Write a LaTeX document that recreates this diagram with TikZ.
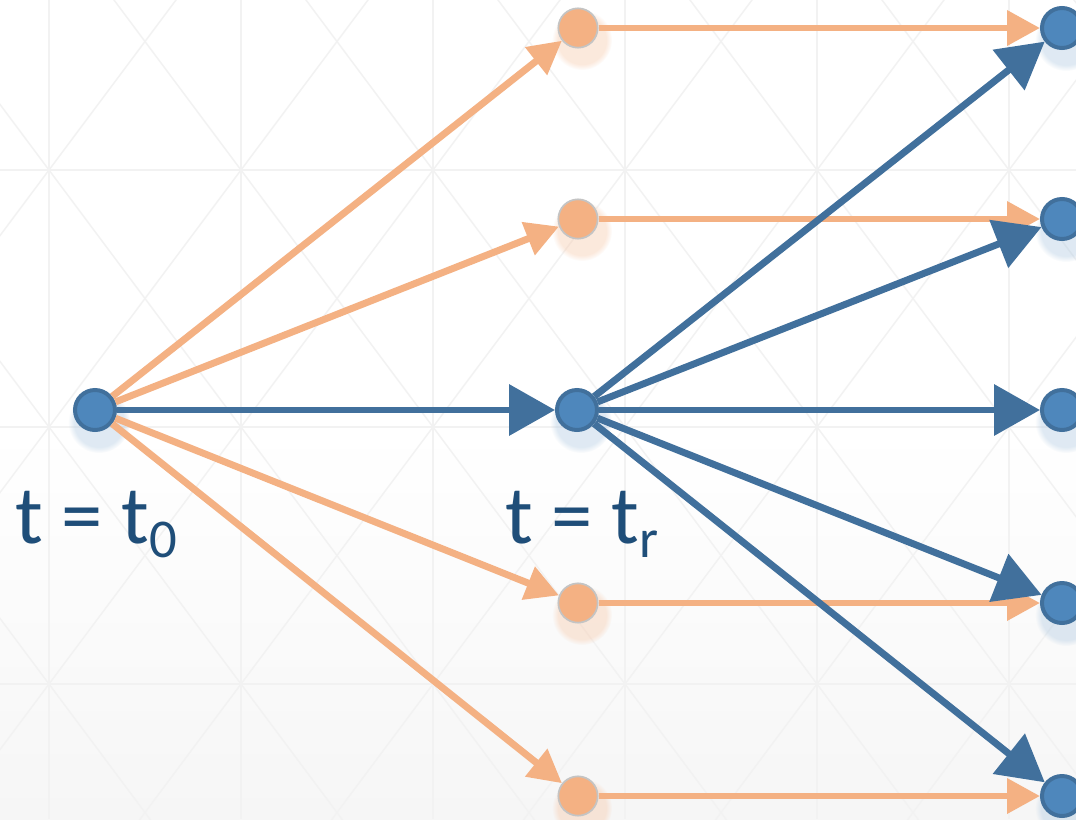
\documentclass[tikz,border=0pt]{standalone}
\usepackage{fontspec}
\setmainfont{Carlito}
\usetikzlibrary{arrows.meta,fadings}
\definecolor{nodeblue}{HTML}{4E87BC}
\definecolor{edgeblue}{HTML}{41709C}
\definecolor{peach}{HTML}{F4B183}
\definecolor{ringgrey}{HTML}{C4C4C4}
\definecolor{labelblue}{HTML}{1F4E79}
\definecolor{gridgrey}{HTML}{F2F2F2}
\definecolor{floorgrey}{HTML}{F6F6F6}
\pgfdeclarelayer{grid}
\pgfdeclarelayer{glow}
\pgfsetlayers{grid,glow,main}
\newcommand{\tsub}[1]{\raisebox{-0.17em}{\fontsize{41}{48}\selectfont #1}}
\tikzset{
  state/.style={circle,draw=edgeblue,fill=nodeblue,line width=3pt,
    minimum size=30pt,inner sep=0pt},
  branch/.style={circle,draw=ringgrey,fill=peach,line width=1.3pt,
    minimum size=29.5pt,inner sep=0pt},
  mainpath/.style={draw=edgeblue,line width=5.2pt,
    -{Triangle[length=34.5pt,width=37.5pt]}},
  sidepath/.style={draw=peach,line width=5.2pt,
    -{Triangle[length=24.75pt,width=25.5pt]}},
  timelabel/.style={text=labelblue,font=\fontsize{62}{74}\selectfont,
    anchor=base west,inner sep=0pt}}

\begin{document}
\begin{tikzpicture}[x=0.75pt,y=-0.75pt]
  \path[use as bounding box] (0,0) rectangle (1076,819);
  % background
  \begin{pgfonlayer}{grid}
    \clip (0,0) rectangle (1076,819);
    \fill[white] (0,0) rectangle (1076,427);
    \shade[top color=white,bottom color=floorgrey] (0,427) rectangle (1076,819);
    \foreach \gx in {49,241,...,1009}
      \draw[gridgrey,line width=1.1pt] (\gx,0) -- (\gx,819);
    \foreach \gy in {170,427,684}
      \draw[gridgrey,line width=1.1pt] (0,\gy) -- (1076,\gy);
    \foreach \k in {-5,...,10} {
      \draw[gridgrey,line width=1.1pt] (49+192*\k+192,-87) -- (49+192*\k-576,941);
      \draw[gridgrey,line width=1.1pt] (49+192*\k-192,-87) -- (49+192*\k+576,941);
    }
  \end{pgfonlayer}

  % states
  \node[state] (t0) at (95,410) {};
  \node[state] (tr) at (577,410) {};
  \node[branch] (o1) at (578,28) {};
  \node[branch] (o2) at (578,219) {};
  \node[branch] (o4) at (578,603) {};
  \node[branch] (o5) at (578,796) {};
  \foreach \i/\y in {1/28,2/219,3/410,4/603,5/796}
    \node[state] (e\i) at (1062,\y) {};

  % soft glow below the states
  \begin{pgfonlayer}{glow}
    \foreach \n in {t0,tr,e1,e2,e3,e4,e5}
      \fill[nodeblue!45,opacity=0.4,path fading=circle with fuzzy edge 20 percent]
        ([shift={(4,12)}]\n.center) circle (31);
    \foreach \n in {o1,o2,o4,o5}
      \fill[peach!70,opacity=0.4,path fading=circle with fuzzy edge 20 percent]
        ([shift={(4,12)}]\n.center) circle (30);
  \end{pgfonlayer}

  % edges
  \foreach \n in {o1,o2,o4,o5}
    \draw[sidepath] (t0) -- (\n);
  \draw[sidepath] (o1) -- (e1);
  \draw[sidepath] (o2) -- (e2);
  \draw[sidepath] (o4) -- (e4);
  \draw[sidepath] (o5) -- (e5);
  \draw[mainpath] (t0) -- (tr);
  \foreach \i in {1,...,5}
    \draw[mainpath] (tr) -- (e\i);

  \node[timelabel] (lab0) at (15,543) {t = t\tsub{0}};
  \node[timelabel] (labr) at (505,543) {t = t\tsub{r}};
\end{tikzpicture}
\end{document}
